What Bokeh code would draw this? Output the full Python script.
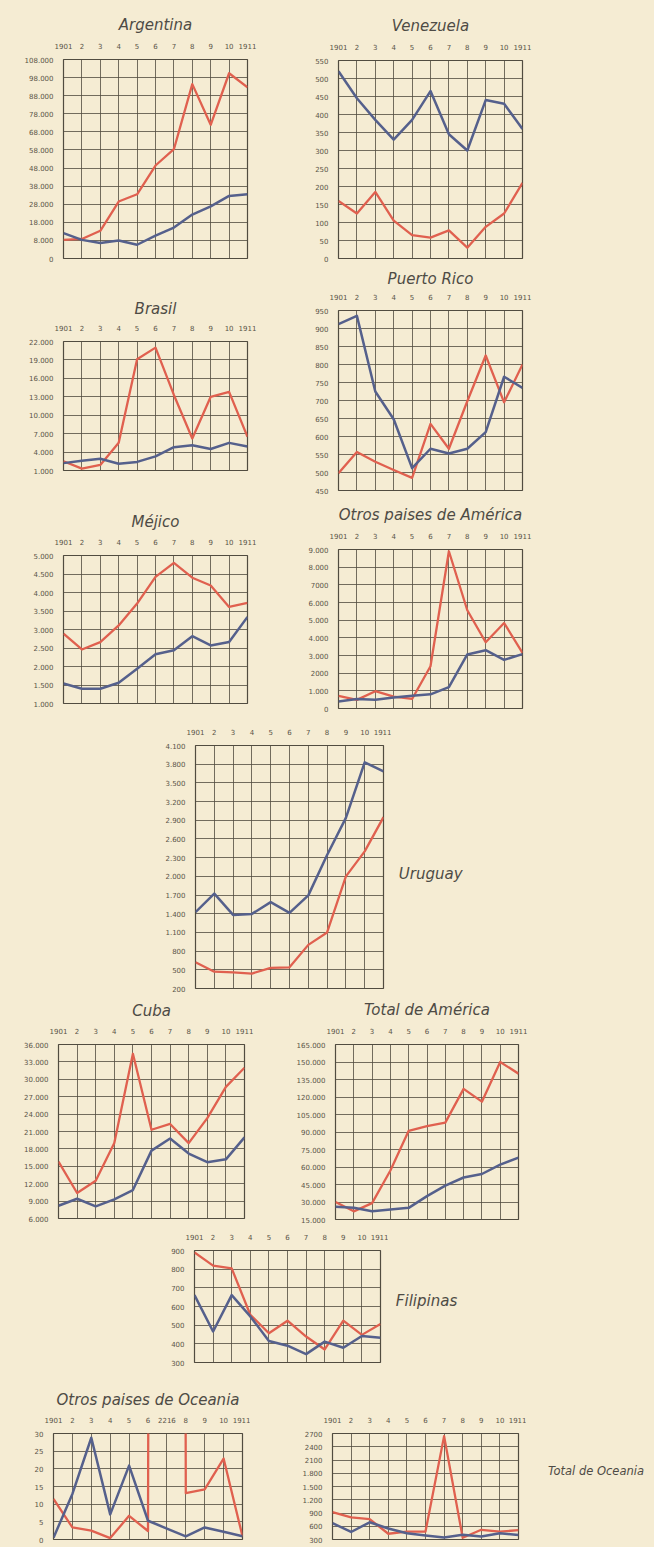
from bokeh.plotting import figure
from bokeh.models import Range1d, FixedTicker, Label, Spacer
from bokeh.layouts import column, row
from bokeh.embed import file_html
from bokeh.resources import INLINE

# ---------------- data ----------------
years = [1901, 1902, 1903, 1904, 1905, 1906, 1907, 1908, 1909, 1910, 1911]
year_labels = ["1901", "2", "3", "4", "5", "6", "7", "8", "9", "10", "1911"]

argentina_red = [8300, 8800, 13300, 29500, 33500, 49400, 58400, 94400, 71900, 100400, 92600]
argentina_blue = [12000, 8300, 6600, 7900, 5600, 10600, 15100, 22300, 26800, 32600, 33500]
argentina_ticks = [-2000, 8000, 18000, 28000, 38000, 48000, 58000, 68000, 78000, 88000, 98000, 108000]
argentina_labels = ["0", "8.000", "18.000", "28.000", "38.000", "48.000", "58.000", "68.000", "78.000", "88.000", "98.000", "108.000"]

venezuela_red = [160, 125, 185, 105, 65, 58, 78, 30, 88, 125, 210]
venezuela_blue = [520, 445, 385, 330, 385, 465, 345, 300, 440, 430, 360]
venezuela_ticks = [0, 50, 100, 150, 200, 250, 300, 350, 400, 450, 500, 550]
venezuela_labels = ["0", "50", "100", "150", "200", "250", "300", "350", "400", "450", "500", "550"]

brasil_red = [2500, 1300, 1900, 5500, 19100, 21000, 13300, 6200, 13000, 13800, 6500]
brasil_blue = [2200, 2600, 2900, 2100, 2400, 3300, 4800, 5100, 4500, 5500, 4900]
brasil_ticks = [1000, 4000, 7000, 10000, 13000, 16000, 19000, 22000]
brasil_labels = ["1.000", "4.000", "7.000", "10.000", "13.000", "16.000", "19.000", "22.000"]

puertorico_red = [498, 557, 530, 507, 485, 635, 566, 698, 825, 695, 800]
puertorico_blue = [912, 935, 725, 648, 512, 566, 553, 566, 612, 766, 735]
puertorico_ticks = [450, 500, 550, 600, 650, 700, 750, 800, 850, 900, 950]
puertorico_labels = ["450", "500", "550", "600", "650", "700", "750", "800", "850", "900", "950"]

mejico_red = [2890, 2460, 2660, 3110, 3700, 4420, 4800, 4400, 4190, 3610, 3720]
mejico_blue = [1540, 1400, 1400, 1560, 1940, 2330, 2440, 2820, 2570, 2660, 3340]
mejico_ticks = [1000, 1500, 2000, 2500, 3000, 3500, 4000, 4500, 5000]
mejico_labels = ["1.000", "1.500", "2.000", "2.500", "3.000", "3.500", "4.000", "4.500", "5.000"]

otrosam_red = [720, 490, 980, 670, 540, 2390, 8900, 5560, 3750, 4840, 3150]
otrosam_blue = [400, 540, 490, 620, 720, 800, 1210, 3060, 3300, 2750, 3080]
otrosam_ticks = [0, 1000, 2000, 3000, 4000, 5000, 6000, 7000, 8000, 9000]
otrosam_labels = ["0", "1.000", "2000", "3.000", "4.000", "5.000", "6.000", "7000", "8.000", "9.000"]

uruguay_red = [620, 470, 460, 440, 530, 540, 900, 1100, 2000, 2400, 2950]
uruguay_blue = [1424, 1722, 1381, 1397, 1586, 1414, 1695, 2343, 2938, 3830, 3684]
uruguay_ticks = [200, 500, 800, 1100, 1400, 1700, 2000, 2300, 2600, 2900, 3200, 3500, 3800, 4100]
uruguay_labels = ["200", "500", "800", "1.100", "1.400", "1.700", "2.000", "2.300", "2.600", "2.900", "3.200", "3.500", "3.800", "4.100"]

cuba_red = [15800, 10400, 12500, 19000, 34400, 21300, 22300, 19000, 23300, 28700, 32000]
cuba_blue = [8200, 9400, 8100, 9300, 10900, 17700, 19800, 17200, 15700, 16200, 20000]
cuba_ticks = [6000, 9000, 12000, 15000, 18000, 21000, 24000, 27000, 30000, 33000, 36000]
cuba_labels = ["6.000", "9.000", "12.000", "15.000", "18.000", "21.000", "24.000", "27.000", "30.000", "33.000", "36.000"]

totalam_red = [30000, 22000, 29000, 57000, 91000, 95000, 98000, 127000, 116000, 150000, 140000]
totalam_blue = [26000, 25000, 22000, 23500, 25000, 35000, 44000, 51000, 54000, 62000, 68000]
totalam_ticks = [15000, 30000, 45000, 60000, 75000, 90000, 105000, 120000, 135000, 150000, 165000]
totalam_labels = ["15.000", "30.000", "45.000", "60.000", "75.000", "90.000", "105.000", "120.000", "135.000", "150.000", "165.000"]

filipinas_red = [890, 819, 804, 556, 457, 524, 439, 370, 524, 448, 506]
filipinas_blue = [661, 466, 661, 547, 415, 390, 345, 412, 379, 442, 433]
filipinas_ticks = [300, 400, 500, 600, 700, 800, 900]
filipinas_labels = ["300", "400", "500", "600", "700", "800", "900"]

otrosoc_red = [11.5, 3.4, 2.5, 0.4, 6.7, 2.4, 2216, 13.1, 14.2, 22.9, 0.9]
otrosoc_blue = [0.5, 12.9, 28.8, 7.1, 20.9, 5.3, 3.1, 0.9, 3.4, 2.2, 0.9]
otrosoc_ticks = [0, 5, 10, 15, 20, 25, 30]
otrosoc_labels = ["0", "5", "10", "15", "20", "25", "30"]
otrosoc_year_labels = ["1901", "2", "3", "4", "5", "6", "2216", "8", "9", "10", "1911"]

totaloc_red = [920, 800, 760, 430, 480, 480, 2640, 340, 520, 480, 510]
totaloc_blue = [670, 470, 690, 550, 440, 390, 345, 410, 370, 440, 400]
totaloc_ticks = [300, 600, 900, 1200, 1500, 1800, 2100, 2400, 2700]
totaloc_labels = ["300", "600", "900", "1.200", "1.500", "1.800", "2100", "2400", "2700"]

# ---------------- style ----------------
BG = "#f5ecd3"
GRID = "#514c40"
RED = "#e0604f"
BLUE = "#55608c"
TXT = "#5a5448"
TITLE_C = "#4e4b45"
FONT = "DejaVu Sans"


def panel(title, red, blue, ticks, labels, w, h, l, r, t, b,
          title_standoff=6, xlabels=None):
    p = figure(width=w, height=h,
               x_range=Range1d(years[0], years[-1]),
               y_range=Range1d(min(ticks), max(ticks)),
               x_axis_location="above", toolbar_location=None, tools="",
               output_backend="svg", title=title,
               min_border_left=l, min_border_right=r,
               min_border_top=t, min_border_bottom=b,
               background_fill_color=BG, border_fill_color=BG,
               outline_line_color=GRID, outline_line_width=1.2)
    if title:
        p.title.align = "center"
        p.title.text_font = FONT
        p.title.text_font_style = "italic"
        p.title.text_font_size = "15px"
        p.title.text_font_style = "italic"
        p.title.text_color = TITLE_C
        p.title.standoff = title_standoff
    xl = xlabels if xlabels is not None else year_labels
    p.xaxis.ticker = FixedTicker(ticks=years)
    p.xaxis.major_label_overrides = {yr: lb for yr, lb in zip(years, xl)}
    p.yaxis.ticker = FixedTicker(ticks=ticks)
    p.yaxis.major_label_overrides = {tk: lb for tk, lb in zip(ticks, labels)}
    for ax in (p.xaxis[0], p.yaxis[0]):
        ax.axis_line_color = None
        ax.major_tick_line_color = None
        ax.minor_tick_line_color = None
        ax.major_label_text_font = FONT
        ax.major_label_text_font_size = "7px"
        ax.major_label_text_color = TXT
    p.xaxis.major_label_standoff = 5
    p.yaxis.major_label_standoff = 4
    p.xgrid.ticker = FixedTicker(ticks=years)
    p.ygrid.ticker = FixedTicker(ticks=ticks)
    for g in (p.xgrid[0], p.ygrid[0]):
        g.grid_line_color = GRID
        g.grid_line_width = 1
        g.grid_line_alpha = 0.8
    p.line(years, red, line_color=RED, line_width=2.3, line_join="round")
    p.line(years, blue, line_color=BLUE, line_width=2.5, line_join="round")
    return p


def text_box(w, h, text, fx, fy, size="13px"):
    f = figure(width=w, height=h, x_range=Range1d(0, 1), y_range=Range1d(0, 1),
               toolbar_location=None, tools="", output_backend="svg",
               title=None, x_axis_location=None, y_axis_location=None,
               min_border=0, min_border_left=0, min_border_right=0,
               min_border_top=0, min_border_bottom=0,
               background_fill_color=BG, border_fill_color=BG,
               outline_line_color=None)
    f.grid.visible = False
    f.add_layout(Label(x=fx, y=fy, text=text, text_font=FONT,
                       text_font_style="italic", text_font_size=size,
                       text_color=TITLE_C, text_align="left",
                       text_baseline="middle"))
    return f


argentina = panel("Argentina", argentina_red, argentina_blue, argentina_ticks, argentina_labels,
                  253, 256, 55, 8, 47, 6, title_standoff=11)
brasil = panel("Brasil", brasil_red, brasil_blue, brasil_ticks, brasil_labels,
               253, 216, 55, 13, 77, 10, title_standoff=7)
mejico = panel("Méjico", mejico_red, mejico_blue, mejico_ticks, mejico_labels,
               253, 230, 52, 14, 75, 7, title_standoff=9)

venezuela = panel("Venezuela", venezuela_red, venezuela_blue, venezuela_ticks, venezuela_labels,
                  243, 256, 48, 10, 50, 6, title_standoff=12)
puertorico = panel("Puerto Rico", puertorico_red, puertorico_blue, puertorico_ticks, puertorico_labels,
                   243, 234, 48, 10, 41, 8, title_standoff=6)
otrosam = panel("Otros paises de América", otrosam_red, otrosam_blue, otrosam_ticks, otrosam_labels,
                243, 214, 48, 11, 44, 4, title_standoff=11)

uruguay = panel(None, uruguay_red, uruguay_blue, uruguay_ticks, uruguay_labels,
                251, 280, 55, 8, 33, 4)
uruguay_text = text_box(92, 280, "Uruguay", 0.08, 0.47, "15px")

cuba = panel("Cuba", cuba_red, cuba_blue, cuba_ticks, cuba_labels,
             246, 230, 50, 10, 40, 4, title_standoff=10)
totalam = panel("Total de América", totalam_red, totalam_blue, totalam_ticks, totalam_labels,
                250, 231, 55, 12, 44, 1, title_standoff=12)

filipinas = panel(None, filipinas_red, filipinas_blue, filipinas_ticks, filipinas_labels,
                  248, 143, 54, 8, 27, 4)
filipinas_text = text_box(92, 143, "Filipinas", 0.08, 0.55, "15px")

otrosoc = panel("Otros paises de Oceania", otrosoc_red, otrosoc_blue, otrosoc_ticks, otrosoc_labels,
                242, 180, 45, 8, 67, 7, title_standoff=9, xlabels=otrosoc_year_labels)

totaloc = panel(None, totaloc_red, totaloc_blue, totaloc_ticks, totaloc_labels,
                246, 180, 52, 8, 32, 7)
totaloc_text = text_box(126, 180, "Total de Oceania", 0.17, 0.644, "11.5px")

left_col = column(argentina, brasil, mejico)
right_col = column(venezuela, puertorico, otrosam)

main = column(
    row(left_col, Spacer(width=29, height=10), right_col),
    row(Spacer(width=132, height=10), uruguay, uruguay_text),
    row(cuba, Spacer(width=26, height=10), totalam),
    row(Spacer(width=132, height=10), filipinas, filipinas_text),
    row(otrosoc, Spacer(width=30, height=10), totaloc, totaloc_text),
)

layout = row(Spacer(width=8, height=10), column(Spacer(width=10, height=8), main))

html = file_html(layout, INLINE, title="Gráficos")
html = html.replace("</head>", "<style>body{background:%s;}</style></head>" % BG, 1)
open("out.html", "w").write(html)
